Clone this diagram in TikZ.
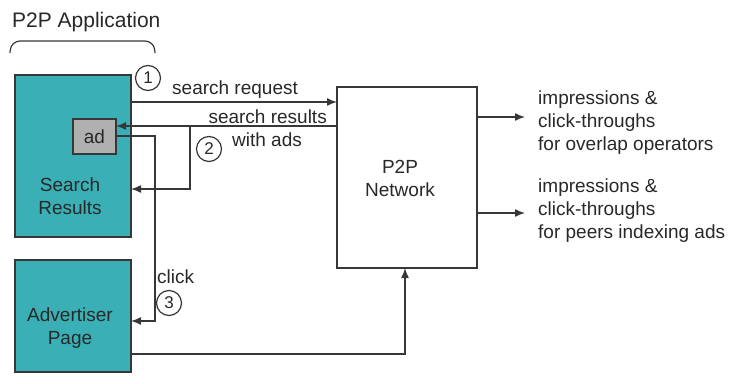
\documentclass[tikz,border=0pt]{standalone}
\usepackage{fontspec}
\setmainfont{Liberation Sans}
\usetikzlibrary{arrows.meta}
\definecolor{teal1}{RGB}{58,176,182}
\definecolor{edge1}{RGB}{55,55,55}
\definecolor{txt}{RGB}{40,40,40}
\definecolor{adgrey}{RGB}{176,176,176}
\tikzset{
  box/.style={draw=edge1, line width=1.4pt, inner sep=0pt},
  tealbox/.style={box, fill=teal1},
  conn/.style={draw=edge1, line width=1.4pt, -{Latex[length=10pt,width=8pt]}},
  plain/.style={draw=edge1, line width=1.4pt},
  lbl/.style={font=\fontsize{19}{23}\selectfont, text=txt, inner sep=0pt},
  num/.style={circle, draw=edge1, line width=1.2pt, minimum size=25pt, inner sep=0pt, font=\fontsize{17}{17}\selectfont, text=txt},
}
\begin{document}
\begin{tikzpicture}[x=1pt,y=-1pt]
\useasboundingbox (0,0) rectangle (731,383);
% boxes
\path[tealbox] (15,75) rectangle (131,237);
\node[minimum width=116pt, minimum height=162pt, inner sep=0pt] (sr) at (73,156) {};
\path[tealbox] (15,260) rectangle (131,372);
\node[minimum width=116pt, minimum height=112pt, inner sep=0pt] (ap) at (73,316) {};
\node[box, fill=adgrey, minimum width=43pt, minimum height=35pt, lbl] (ad) at (94.5,136.5) {ad};
\node[box, fill=white, minimum width=140pt, minimum height=181pt] (net) at (407,177.5) {};
% texts in boxes
\node[lbl, align=center] (srt) at (70,196) {Search\\Results};
\node[lbl, align=center] (apt) at (70,328) {Advertiser\\Page};
\node[lbl, align=center] (nett) at (400,178) {P2P\\Network};
% title and brace
\node[lbl, anchor=base west, font=\fontsize{21}{24}\selectfont] (title) at (12,27) {P2P Application};
\draw[plain, line width=1.2pt, rounded corners=9pt] (10,53) -- (11,41) -- (154,41) -- (155,53);
% coordinates
\coordinate (req0) at (131,102);
\coordinate (req1) at (337,102);
\coordinate (res0) at (337,126);
\coordinate (res1) at (116,126);
\coordinate (brx) at (190,126);
\coordinate (brd) at (190,189);
\coordinate (brl) at (131,189);
\coordinate (ck0) at (116,136);
\coordinate (ck1) at (155,136);
\coordinate (ck2) at (155,321);
\coordinate (ck3) at (131,321);
\coordinate (ad0) at (131,354);
\coordinate (ad1) at (405,354);
\coordinate (ad2) at (405,268);
\coordinate (o1a) at (477,117);
\coordinate (o1b) at (525,117);
\coordinate (o2a) at (477,213);
\coordinate (o2b) at (525,213);
% connectors
\draw[conn] (req0) -- (req1);
\draw[conn] (res0) -- (res1);
\draw[conn] (brx) -- (brd) -- (brl);
\draw[conn] (ck0) -- (ck1) -- (ck2) -- (ck3);
\draw[conn] (ad0) -- (ad1) -- (ad2);
\draw[conn] (o1a) -- (o1b);
\draw[conn] (o2a) -- (o2b);
% labels
\node[num] (n1) at (148,78) {1};
\node[num] (n2) at (209,149) {2};
\node[num] (n3) at (169,303) {3};
\node[lbl, anchor=base west] (l1) at (172,94) {search request};
\node[lbl, anchor=base east] (l2) at (327,123) {search results};
\node[lbl, anchor=base west] (l3) at (232,146) {with ads};
\node[lbl, anchor=base west] (l4) at (157,283) {click};
\node[lbl, anchor=base west] (r1) at (538,104) {impressions \&};
\node[lbl, anchor=base west] (r1b) at (538,127) {click-throughs};
\node[lbl, anchor=base west] (r1c) at (538,150) {for overlap operators};
\node[lbl, anchor=base west] (r2) at (538,192) {impressions \&};
\node[lbl, anchor=base west] (r2b) at (538,215) {click-throughs};
\node[lbl, anchor=base west] (r2c) at (538,238) {for peers indexing ads};
\end{tikzpicture}
\end{document}
